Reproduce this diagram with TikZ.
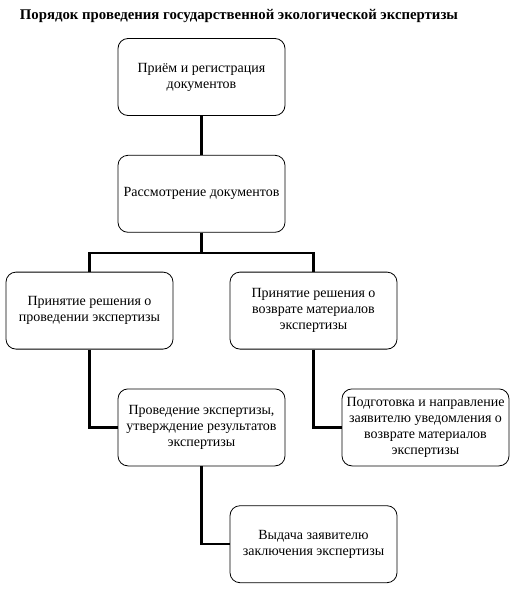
\documentclass[tikz,border=0pt]{standalone}
\usepackage{fontspec}
\setmainfont{Liberation Serif}
\usetikzlibrary{positioning}
\begin{document}
\begin{tikzpicture}[node distance=39pt]

        % стили
        \tikzstyle{stage} = [rectangle, rounded corners=10pt, minimum width=167pt, minimum height=77pt, text centered, align=center, draw=black, line width=0.8pt, font=\fontsize{14}{16}\selectfont]
        \tikzstyle{link} = [line width=2.2pt]

        \useasboundingbox (0,0) rectangle (520pt,-608pt);

        % заголовок
        \node (title) [anchor=base, font=\bfseries\fontsize{14.8}{17}\selectfont] at (239pt,-19pt) {Порядок проведения государственной экологической экспертизы};

        % узлы
        \node (receive) [stage] at (201.5pt,-77pt) {Приём и регистрация\\документов};
        \node (review) [stage, below=of receive] {Рассмотрение документов};
        \node (accept) [stage, below=of review, xshift=-112pt] {Принятие решения о\\проведении экспертизы};
        \node (decline) [stage, below=of review, xshift=112pt] {Принятие решения о\\возврате материалов\\экспертизы};
        \node (conduct) [stage, below=of accept, xshift=112pt] {Проведение экспертизы,\\утверждение результатов\\экспертизы};
        \node (notify) [stage, below=of decline, xshift=112pt] {Подготовка и направление\\заявителю уведомления о\\возврате материалов\\экспертизы};
        \node (issue) [stage, below=of conduct, xshift=112pt] {Выдача заявителю\\заключения экспертизы};

        % связи
        \draw [link] (receive) -- (review);
        \draw [link] (review.south) -- ++(0,-20pt) -| (accept.north);
        \draw [link] (review.south) -- ++(0,-20pt) -| (decline.north);
        \draw [link] (accept.south) |- (conduct.west);
        \draw [link] (decline.south) |- (notify.west);
        \draw [link] (conduct.south) |- (issue.west);

    \end{tikzpicture}
\end{document}
